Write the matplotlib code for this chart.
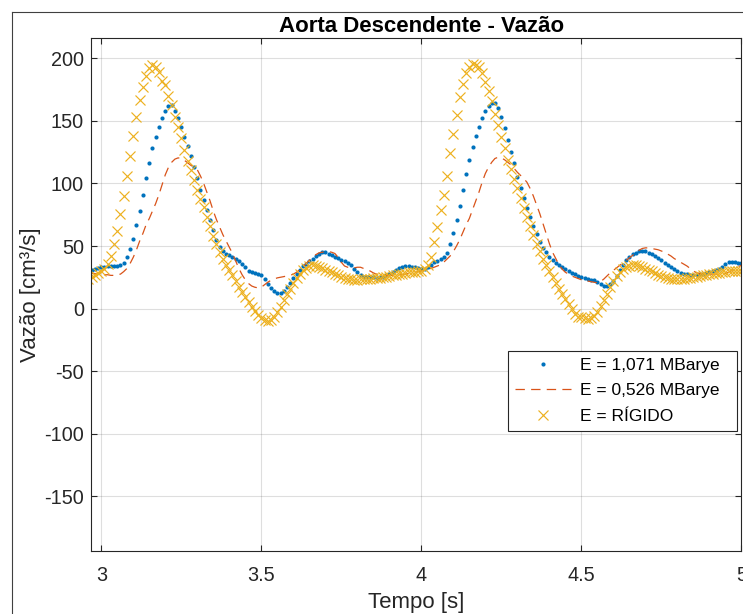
import numpy as np
import matplotlib
matplotlib.use("Agg")
import matplotlib.pyplot as plt
from matplotlib.lines import Line2D

plt.rcParams['font.family'] = ['Liberation Sans', 'DejaVu Sans']
plt.rcParams['axes.unicode_minus'] = False

# sample times: 2.96 s .. 5.00 s, every 10 ms (205 samples)
tempo = np.arange(296, 501) / 100.0

# E = 1,071 MBarye
vazao_e1071 = [
    30, 30.7, 31.5, 32.3,
    33, 33.5, 34, 34, 34, 34, 34.5, 36.5, 41, 47.5,
    56, 66.7, 78, 91, 104, 116.5, 128, 137, 145, 152,
    158, 162, 162.5, 158, 152, 145, 137, 130, 122, 113,
    104, 95, 87, 79, 71, 63, 55, 49, 46, 44,
    43, 41, 40, 38, 36, 33, 30, 29, 28.5, 28,
    26.5, 23.5, 20, 16.5, 14, 12.8, 12.7, 14.3, 17.3, 20.5,
    24.5, 28, 31, 34, 36, 38, 40, 42, 44, 45,
    45, 44, 42.5, 41.5, 40.5, 39, 37.7, 36.5, 34.5, 32,
    29, 26.5, 25.5, 25.2, 25, 24.9, 24.8, 25, 25.5, 26.5,
    28, 29.5, 31, 32.7, 33.5, 34, 34, 33.5, 33, 32.3,
    31.5, 32, 33.5, 35.2, 37, 38, 39.5, 41.5, 44.5, 51.5,
    60.5, 71, 82, 94.7, 107.5, 119, 129, 138, 145, 152,
    158, 162, 164, 164.5, 160.5, 153.5, 144, 134.5, 125, 116,
    105.5, 96.5, 88, 80.5, 73, 66, 59.5, 53.5, 48.5, 45,
    41.5, 39, 36.7, 34.8, 33, 31.3, 29.7, 28.4, 27.3, 26.2,
    25, 24.4, 23.8, 23.2, 22.8, 21.5, 19.8, 18.2, 17.9, 19.3,
    22, 26.4, 30.5, 35.2, 38.8, 41.5, 43.3, 44.8, 45.9, 46,
    45.8, 44.7, 43.5, 41.8, 40.2, 38.5, 36.8, 35, 33.5, 32,
    29.9, 28.2, 27.6, 27.3, 27.2, 27.2, 27.2, 27.5, 27.8, 28.6,
    29.4, 29.9, 30.5, 31.5, 33.5, 35.7, 37.1, 37.6, 37.3, 36.7,
    36.3,
]

# E = 0,526 MBarye
vazao_e0526 = [
    28, 28, 28, 27.5,
    27, 27, 27, 26.5, 26.5, 27, 27.5, 29.5, 32, 36,
    41, 47, 54, 60, 67, 72, 78, 84, 91, 99,
    107, 113, 117, 119.5, 120.5, 120, 118.5, 116.5, 114.5, 113,
    111, 106, 100, 93, 86, 78, 71, 65, 59, 54,
    49, 44, 38, 32, 27, 23, 20, 18, 17, 16.5,
    17, 19, 21, 22.5, 23.5, 24.5, 25, 25.5, 26, 26.5,
    27.5, 29, 31, 33.5, 36, 38.5, 41, 43, 44.5, 45,
    45.5, 45.5, 45, 44, 41, 37, 34, 33, 32.5, 32.5,
    33, 33, 32, 31, 30, 28.5, 27.5, 27, 26.5, 26.5,
    26.5, 26.5, 26.5, 27, 27, 27.5, 28, 28.5, 29, 29.5,
    30, 31, 31.5, 32, 33, 34, 35, 37, 39.5, 42,
    45.5, 50, 55, 61, 67, 72, 79, 86, 93, 101,
    108, 113, 117, 120, 121, 120.5, 119, 117, 115, 112,
    109, 106.5, 104, 101, 96, 90, 83, 76, 68, 60,
    52, 45, 40, 35, 31.5, 29, 27.5, 26, 25, 24,
    23, 22.5, 22, 21.5, 21, 20.5, 21.5, 23.5, 26, 28.5,
    30.5, 32.5, 34.5, 36.5, 38.5, 40.5, 42.5, 44.5, 46.5, 48,
    48.5, 48.5, 48, 47.5, 47, 46, 45, 43.5, 42, 40,
    38.5, 37, 35.5, 34, 32, 30, 28.5, 28, 27.5, 27.5,
    27.5, 27.5, 27.5, 27.5, 27.5, 28, 29, 30.5, 32, 33.5,
    34.5,
]

# E = RIGIDO
vazao_rigido = [
    24, 25.5, 27, 28.5,
    30, 32, 36, 42, 52, 62, 75.5, 90, 106, 122,
    138, 153, 167, 177, 186, 192.5, 194.5, 193, 189, 182,
    179, 170, 163, 153, 145, 136, 127, 118, 111, 102.5,
    94.5, 87.5, 81, 73.5, 66, 58, 51.5, 45.5, 40, 35,
    31, 26.5, 22, 17.5, 13.5, 9.5, 5.5, 1.5, -2, -5,
    -7.5, -9, -10, -9.5, -7, -3, 1.5, 6.5, 11.5, 16,
    20.5, 24.5, 28, 30.5, 32.5, 34, 34.5, 34, 33.5, 32.5,
    31, 30, 29, 27.5, 26.5, 25.5, 24.5, 24, 23.5, 23.2,
    23.2, 23.5, 23.7, 23.7, 24, 24.2, 24.5, 24.8, 25.2, 25.6,
    26, 26.5, 27, 27.5, 28, 28.5, 29, 29.5, 29.5, 30,
    30, 31.5, 34.5, 41, 53, 65, 78.5, 90.5, 106, 124.5,
    139.5, 154.7, 169.5, 179.5, 188, 193.3, 195.5, 195, 193, 188,
    181.5, 174, 166, 155.5, 146.5, 137.3, 128.5, 119, 111.5, 103.5,
    96, 88, 80.5, 73, 66, 58.7, 52, 46, 40, 35,
    30.3, 25.5, 20.5, 16, 12, 8, 3.5, -0.5, -4, -6.5,
    -6.5, -7.5, -8, -7.5, -5.8, -2.5, 1.8, 7, 12, 17.3,
    22, 26, 29.3, 31.7, 33.3, 34.4, 34.7, 34.7, 34, 33,
    32, 31, 29.8, 28.5, 27, 26.2, 25.2, 24.5, 23.8, 23.5,
    23.5, 23.6, 23.9, 24.2, 24.6, 25, 25.5, 26, 26.5, 27.2,
    27.5, 28, 28.5, 28.8, 29.3, 29.6, 29.9, 30.1, 30.1, 30.1,
    30.1,
]

labels = ['E = 1,071 MBarye', 'E = 0,526 MBarye', 'E = RÍGIDO']
x_ticks = [3, 3.5, 4, 4.5, 5]
x_ticklabels = ['3', '3.5', '4', '4.5', '5']
y_ticks = [-150, -100, -50, 0, 50, 100, 150, 200]

fig = plt.figure(figsize=(7.43, 6.14), dpi=100)
ax = fig.add_axes([0.1221, 0.1026, 0.8757, 0.8347])

ink = '#262626'
ax.plot(tempo, vazao_e1071, linestyle='none', marker='o', ms=3.0,
        mew=0, color='#0072BD', label=labels[0])
ax.plot(tempo, vazao_e0526, linestyle=(0, (7.5, 5)), lw=0.9,
        color='#D95319', label=labels[1])
ax.plot(tempo, vazao_rigido, linestyle='none', marker='x', ms=6.5,
        mew=0.85, color='#EDB120', label=labels[2])

ax.set_xlim(2.967, 5.0)
ax.set_ylim(-194, 216)
ax.set_xticks(x_ticks)
ax.set_xticklabels(x_ticklabels)
ax.set_yticks(y_ticks)

ax.grid(True, color=ink, alpha=0.15, lw=0.8)
ax.set_axisbelow(True)
for s in ax.spines.values():
    s.set_color(ink)
    s.set_linewidth(0.8)
ax.tick_params(direction='in', length=4.5, width=0.8, color=ink,
               labelcolor=ink, labelsize=14.3, top=True, right=True)
ax.tick_params(axis='x', pad=10.5)
ax.tick_params(axis='y', pad=5)

ax.set_xlabel('Tempo [s]', fontsize=16, color=ink, labelpad=5.5)
ax.set_ylabel('Vazão [cm³/s]', fontsize=16, color=ink, labelpad=2)
ax.set_title('Aorta Descendente - Vazão', fontsize=16, fontweight='bold',
             color='black', pad=5, x=0.508)

# trailing spaces give the wider right margin of the original legend box
leg = ax.legend([l + '  ' for l in labels], loc='upper right',
                bbox_to_anchor=(0.993, 0.391),
                borderaxespad=0, fontsize=12.5, handlelength=3.2,
                handletextpad=0.55, labelspacing=0.6, borderpad=0.4,
                fancybox=False, framealpha=1, edgecolor=ink)
leg.get_frame().set_linewidth(0.8)

# outer figure frame (left and top edges visible)
fig.add_artist(Line2D([12 / 743, 12 / 743], [0, 1 - 12 / 614],
                      transform=fig.transFigure, color='#404040', lw=0.8))
fig.add_artist(Line2D([12 / 743, 1], [1 - 12 / 614, 1 - 12 / 614],
                      transform=fig.transFigure, color='#404040', lw=0.8))

fig.savefig('out.png', dpi=100)
